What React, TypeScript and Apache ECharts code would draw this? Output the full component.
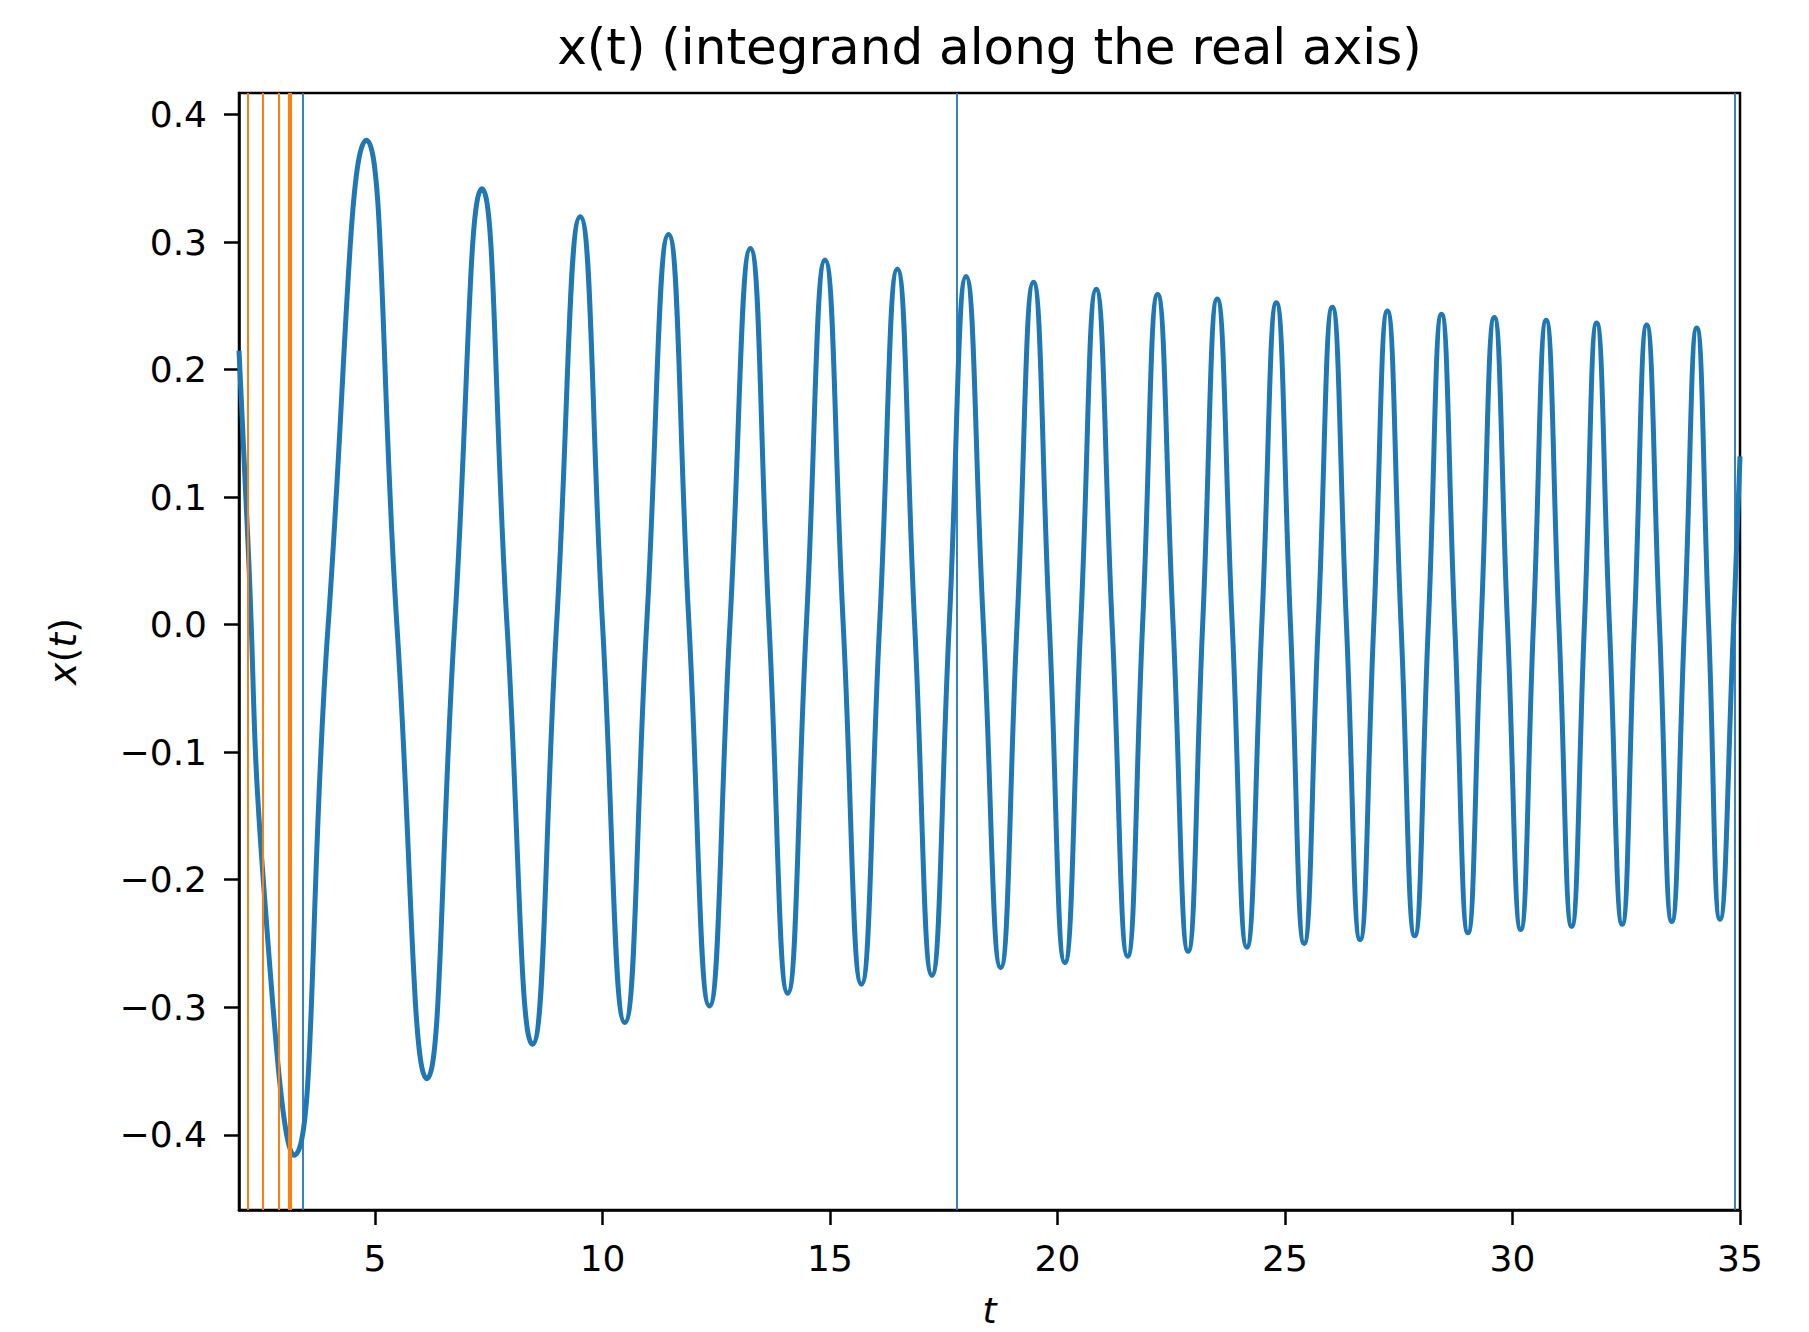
import React, { useEffect, useRef } from "react";
import * as echarts from "echarts";

// Axis ticks
const xTicks = [5, 10, 15, 20, 25, 30, 35];
const yTicks = [-0.4, -0.3, -0.2, -0.1, 0.0, 0.1, 0.2, 0.3, 0.4];

// Opening descent of x(t) before the first minimum
const leadT = [2.01, 2.2, 2.56];
const leadV = [0.215, 0.07, -0.208];

// Successive minima / maxima of x(t)
const extremaT = [
  3.22, 4.81, 6.14, 7.35, 8.46, 9.51, 10.49, 11.45, 12.35, 13.25, 14.07, 14.89,
  15.69, 16.48, 17.24, 17.99, 18.75, 19.47, 20.16, 20.85, 21.54, 22.2, 22.87,
  23.51, 24.16, 24.81, 25.42, 26.04, 26.65, 27.25, 27.85, 28.44, 29.02, 29.6,
  30.18, 30.74, 31.3, 31.85, 32.41, 32.95, 33.5, 34.05, 34.56,
];
const extremaV = [
  -0.416, 0.38, -0.356, 0.342, -0.329, 0.32, -0.312, 0.306, -0.299, 0.295,
  -0.289, 0.286, -0.282, 0.279, -0.275, 0.273, -0.269, 0.2685, -0.265, 0.263,
  -0.26, 0.259, -0.256, 0.2555, -0.253, 0.2525, -0.25, 0.249, -0.247, 0.246,
  -0.244, 0.2435, -0.2416, 0.241, -0.239, 0.2387, -0.2366, 0.2366, -0.235,
  0.235, -0.2327, 0.2327, -0.231,
];

// Zero crossings between neighbouring extrema
const zeroT = [
  3.97, 5.48, 6.75, 7.9, 8.99, 10.0, 10.97, 11.9, 12.8, 13.66, 14.48, 15.29,
  16.09, 16.86, 17.62, 18.37, 19.11, 19.82, 20.51, 21.2, 21.87, 22.54, 23.19,
  23.84, 24.49, 25.12, 25.73, 26.35, 26.95, 27.55, 28.15, 28.73, 29.31, 29.89,
  30.46, 31.02, 31.58, 32.13, 32.68, 33.23, 33.78, 34.31, 34.86,
];

// Value at the right end of the range
const endT = 35.0;
const endV = 0.132;

// Vertical markers
const orangeMarks = [2.215, 2.545, 2.89, 3.1, 3.14];
const blueMarks = [3.42, 17.78, 34.89];

const X_MIN = 2.01;
const X_MAX = 35;
const Y_MIN = -0.459;
const Y_MAX = 0.417;

const FONT = '"DejaVu Sans", Verdana, sans-serif';

function buildCurve(): [number, number][] {
  const pts: [number, number][] = [];
  leadT.forEach((t, i) => pts.push([t, leadV[i]]));
  extremaT.forEach((t, i) => pts.push([t, extremaV[i]]));
  zeroT.forEach((t) => pts.push([t, 0]));
  pts.push([endT, endV]);
  pts.sort((a, b) => a[0] - b[0]);
  return pts;
}

const fmtY = (v: number) => {
  const s = Math.abs(v).toFixed(1);
  return v < -1e-9 ? "\u2212" + s : s;
};

export default function App() {
  const ref = useRef<HTMLDivElement>(null);

  useEffect(() => {
    if (!ref.current) return;
    const chart = echarts.init(ref.current, undefined, { renderer: "svg" });

    const axisCommon = {
      axisLine: { show: true, onZero: false, lineStyle: { color: "#000", width: 2.5 } },
      splitLine: { show: false },
    };

    chart.setOption({
      animation: false,
      backgroundColor: "#fff",
      grid: {
        left: 239,
        right: 69,
        top: 93,
        bottom: 122,
        containLabel: false,
        outerBoundsMode: "none",
        show: true,
        borderColor: "#000",
        borderWidth: 2.5,
        backgroundColor: "transparent",
      },
      graphic: [
        {
          type: "text",
          x: 989.5,
          y: 47,
          style: {
            text: "x(t) (integrand along the real axis)",
            font: `50px ${FONT}`,
            fill: "#000",
            align: "center",
            verticalAlign: "middle",
          },
        },
      ],
      xAxis: {
        type: "value",
        min: X_MIN,
        max: X_MAX,
        ...axisCommon,
        axisTick: {
          show: true,
          customValues: xTicks,
          length: 15,
          lineStyle: { color: "#000", width: 2.5 },
        },
        axisLabel: {
          customValues: xTicks,
          margin: 30,
          fontSize: 36,
          fontFamily: FONT,
          color: "#000",
        },
        name: "t",
        nameLocation: "middle",
        nameGap: 82,
        nameTextStyle: {
          fontSize: 36,
          lineHeight: 36,
          fontFamily: FONT,
          fontStyle: "italic",
          color: "#000",
        },
      },
      yAxis: {
        type: "value",
        min: Y_MIN,
        max: Y_MAX,
        ...axisCommon,
        axisTick: {
          show: true,
          customValues: yTicks,
          length: 15,
          lineStyle: { color: "#000", width: 2.5 },
        },
        axisLabel: {
          customValues: yTicks,
          margin: 32,
          fontSize: 36,
          fontFamily: FONT,
          color: "#000",
          formatter: (v: number) => fmtY(v),
        },
        name: "{i|x}({i|t})",
        nameLocation: "middle",
        nameGap: 157,
        nameTextStyle: {
          fontSize: 38,
          fontFamily: FONT,
          color: "#000",
          rich: { i: { fontSize: 38, fontFamily: FONT, fontStyle: "italic", color: "#000" } },
        },
      },
      series: [
        {
          type: "line",
          data: buildCurve(),
          showSymbol: false,
          smooth: 0.5,
          lineStyle: { color: "#1f77b4", width: 5 },
          z: 2,
        },
        {
          type: "line",
          data: [],
          markLine: {
            silent: true,
            symbol: ["none", "none"],
            label: { show: false },
            lineStyle: { color: "#1f77b4", width: 2, type: "solid", opacity: 0.9 },
            data: blueMarks.map((v) => ({ xAxis: v })),
          },
          z: 3,
        },
        {
          type: "line",
          data: [],
          markLine: {
            silent: true,
            symbol: ["none", "none"],
            label: { show: false },
            lineStyle: { color: "#ff7f0e", width: 2, type: "solid" },
            data: orangeMarks.map((v) => ({ xAxis: v })),
          },
          z: 4,
        },
      ],
    });

    return () => chart.dispose();
  }, []);

  return (
    <div
      ref={ref}
      style={{ position: "absolute", left: 0, top: 0, width: 1809, height: 1332, background: "#fff" }}
    />
  );
}
